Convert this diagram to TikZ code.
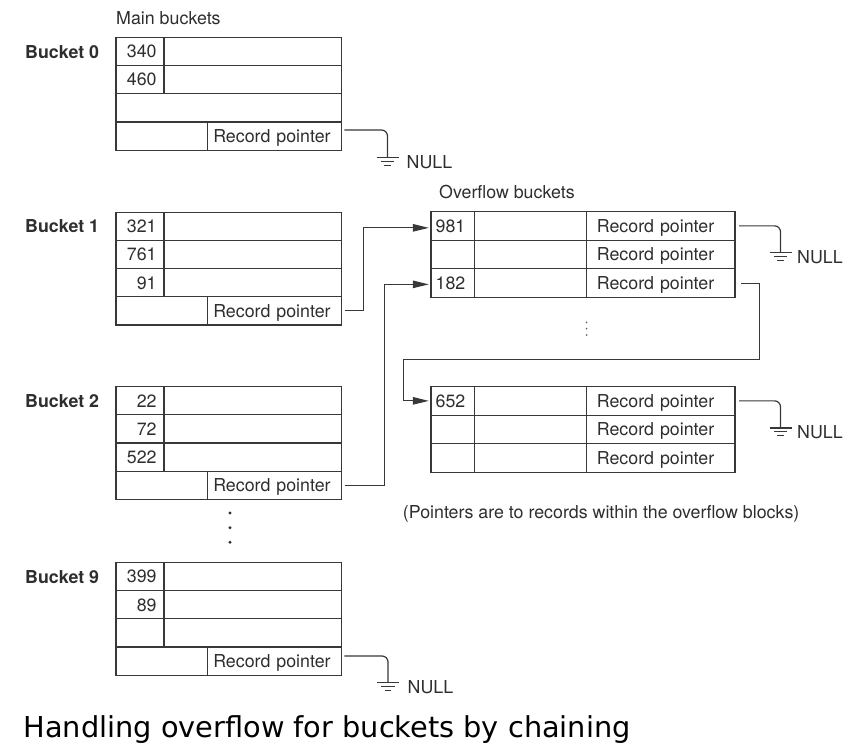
\documentclass[tikz,border=0pt]{standalone}
\usepackage{fontspec}
\setmainfont{TeX Gyre Heros}
\newfontfamily\capfont{DejaVu Sans}
\usetikzlibrary{arrows.meta}
\definecolor{ink}{HTML}{2E2E2E}
\definecolor{linec}{HTML}{383838}
\tikzset{
  tx/.style={font=\fontsize{17.8pt}{20pt}\selectfont, text=ink, inner sep=0pt, text height=12.8pt, text depth=0pt},
  lbl/.style={tx, anchor=west},
  blbl/.style={tx, anchor=west, font=\fontsize{17.8pt}{20pt}\selectfont\bfseries},
  cell/.style={tx, draw=linec, line width=1.2pt, anchor=north west, minimum height=28.2pt},
  mnum/.style={cell, minimum width=48pt, text width=33.4pt, align=right},
  mbody/.style={cell, minimum width=177.4pt},
  mfull/.style={cell, minimum width=225.4pt},
  mempty/.style={cell, minimum width=91.4pt},
  mptr/.style={cell, minimum width=134pt, text width=122pt, align=left},
  ocell/.style={cell, minimum height=28.5pt},
  onum/.style={ocell, minimum width=43.3pt, text width=33.9pt, align=left},
  obody/.style={ocell, minimum width=111.9pt},
  optr/.style={ocell, minimum width=148.8pt, text width=127.2pt, align=left},
  conn/.style={draw=linec, line width=1.2pt},
  arr/.style={conn, -{Triangle[length=16pt,width=7.5pt]}, shorten >=1.5pt},
  gnd/.style={conn, rounded corners=6pt},
  groundsym/.pic={\draw[conn] (-11,0) -- (11,0) (-6.7,3.8) -- (6.7,3.8) (-3.3,7.6) -- (3.3,7.6);}
}
\newcommand\mainbkt[5]{%
  \node[blbl] (#1lab) at (25,#2+15) {#3};
  \node[mnum] (#1n1) at (115.3,#2) {#4};
  \node[mbody] (#1b1) at (163.3,#2) {};
  \node[mnum] (#1n2) at (115.3,#2+28.2) {#5};
  \node[mbody] (#1b2) at (163.3,#2+28.2) {};
  \node[mempty] (#1e4) at (115.3,#2+84.6) {};
  \node[mptr] (#1p) at (206.7,#2+84.6) {Record pointer};
}
\newcommand\ovbkt[3]{%
  \node[onum] (#1n1) at (430.3,#2) {#3};
  \node[obody] (#1b1) at (473.6,#2) {};
  \node[optr] (#1p1) at (585.5,#2) {Record pointer};
  \node[onum] (#1n2) at (430.3,#2+28.5) {};
  \node[obody] (#1b2) at (473.6,#2+28.5) {};
  \node[optr] (#1p2) at (585.5,#2+28.5) {Record pointer};
}
\begin{document}
\begin{tikzpicture}[x=1pt,y=-1pt]
\useasboundingbox (0,0) rectangle (861,749);

% titles
\node[lbl] (mainlab) at (116,18.3) {Main buckets};
\node[lbl] (ovlab) at (439,191.7) {Overflow buckets};
\node[lbl] (note) at (402.7,511.7) {(Pointers are to records within the overflow blocks)};

% main buckets
\mainbkt{b0}{36.7}{Bucket 0}{340}{460}
\node[mfull] (b0f3) at (115.3,36.7+56.4) {};
\mainbkt{b1}{211.5}{Bucket 1}{321}{761}
\node[mnum] (b1n3) at (115.3,211.5+56.4) {91};
\node[mbody] (b1b3) at (163.3,211.5+56.4) {};
\mainbkt{b2}{386}{Bucket 2}{22}{72}
\node[mnum] (b2n3) at (115.3,386+56.4) {522};
\node[mbody] (b2b3) at (163.3,386+56.4) {};
\mainbkt{b9}{561.7}{Bucket 9}{399}{89}
\node[mnum] (b9n3) at (115.3,561.7+56.4) {};
\node[mbody] (b9b3) at (163.3,561.7+56.4) {};

% overflow buckets
\ovbkt{o1}{211}{981}
\node[onum] (o1n3) at (430.3,211+57) {182};
\node[obody] (o1b3) at (473.6,211+57) {};
\node[optr] (o1p3) at (585.5,211+57) {Record pointer};
\ovbkt{o2}{386}{652}
\node[onum] (o2n3) at (430.3,386+57) {};
\node[obody] (o2b3) at (473.6,386+57) {};
\node[optr] (o2p3) at (585.5,386+57) {Record pointer};

% dots
\fill[ink] (230,513) circle (1.6) (230,527.7) circle (1.6) (230,542.3) circle (1.6);
\fill[ink!70] (586.5,322.3) circle (1) (586.5,328.6) circle (1) (586.5,335) circle (1);

% grounds
\coordinate (g0) at (387.5,157.7);
\coordinate (g9) at (388,682.7);
\coordinate (g1) at (780.5,252.7);
\coordinate (g2) at (780.5,427.9);
\pic at (g0) {groundsym};
\pic at (g9) {groundsym};
\pic at (g1) {groundsym};
\pic at (g2) {groundsym};
\node[lbl] (null0) at (406.5,161.7) {NULL};
\node[lbl] (null9) at (407.5,686.7) {NULL};
\node[lbl] (null1) at (797,256.7) {NULL};
\node[lbl] (null2) at (797,431.9) {NULL};

\draw[gnd] ([shift={(2.5,-6)}]b0p.east) -| (g0);
\draw[gnd] ([shift={(2.5,-5)}]b9p.east) -| (g9);
\draw[gnd] ([xshift=3.7pt]o1p1.east) -| (g1);
\draw[gnd] ([xshift=3.7pt]o2p1.east) -| (g2);

% chain pointers
\coordinate (c1) at (403.8,359.5);
\draw[arr] ([xshift=2.8pt]b1p.east) -- ++(18.5,0) |- ([yshift=-2pt]o1n1.west);
\draw[arr] ([xshift=2.8pt]b2p.east) -- ++(39.5,0) |- ([yshift=-1.5pt]o1n3.west);
\draw[arr] ([shift={(5.7,1)}]o1p3.east) -- ++(18.3,0) |- (c1) |- (o2n1.west);

% caption
\node[anchor=base west, inner sep=0pt, font=\capfont\fontsize{28.8pt}{31pt}\selectfont] (cap) at (23.3,737) {Handling overflow for buckets by chaining};
\end{tikzpicture}
\end{document}
